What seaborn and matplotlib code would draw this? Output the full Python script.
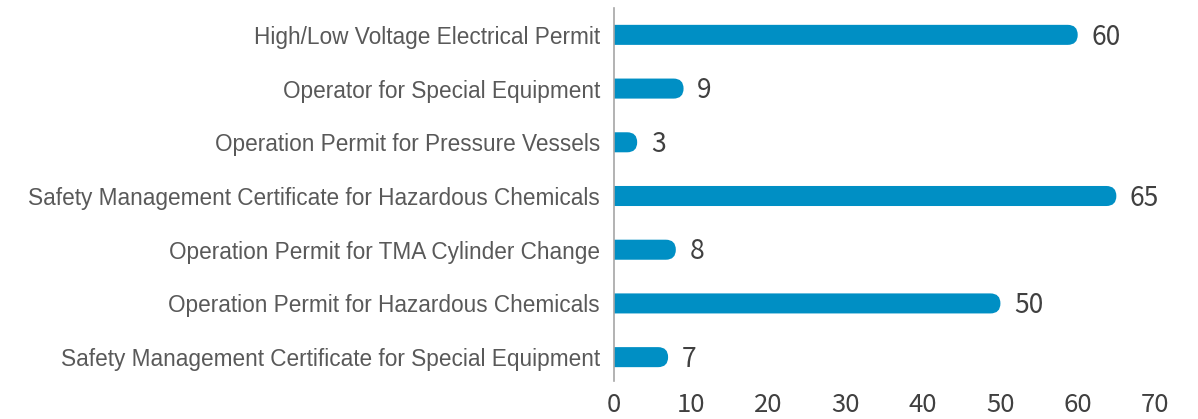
import matplotlib
matplotlib.use("Agg")
import matplotlib.pyplot as plt
from matplotlib.patches import FancyBboxPatch
import seaborn as sns
import pandas as pd

categories = [
    "High/Low Voltage Electrical Permit",
    "Operator for Special Equipment",
    "Operation Permit for Pressure Vessels",
    "Safety Management Certificate for Hazardous Chemicals",
    "Operation Permit for TMA Cylinder Change",
    "Operation Permit for Hazardous Chemicals",
    "Safety Management Certificate for Special Equipment",
]
counts = [60, 9, 3, 65, 8, 50, 7]
x_ticks = [0, 10, 20, 30, 40, 50, 60, 70]

df = pd.DataFrame({"category": categories, "count": counts})

sns.set_theme(style="white")
plt.rcParams["font.family"] = ["Liberation Sans", "DejaVu Sans"]
num_font = ["Noto Sans CJK SC", "DejaVu Sans"]

bar_color = "#008fc4"
W, H = 1198, 419
fig = plt.figure(figsize=(W / 100, H / 100), dpi=100)
ax = fig.add_axes([614 / W, 1 - 384 / H, (1155 - 614) / W, (384 - 8) / H])

bar_h = 0.373
sns.barplot(data=df, x="count", y="category", orient="h", color=bar_color,
            width=bar_h, saturation=1, ax=ax)
ax.set_xlim(0, 70)
ax.set_ylim(len(categories) - 0.5, -0.5)

# swap the plain bars for ones with a rounded right end
ax_w_px = (1155 - 614)
ax_h_px = (384 - 8)
x_per_px = 70 / ax_w_px
y_per_px = len(categories) / ax_h_px
aspect = y_per_px / x_per_px
radius = (bar_h / 2) / aspect
for p in list(ax.patches):
    x0, y0 = p.get_x(), p.get_y()
    w, h = p.get_width(), p.get_height()
    p.remove()
    rb = FancyBboxPatch((x0 - 2 * radius, y0), w + 2 * radius, h,
                        boxstyle=f"round,pad=0,rounding_size={radius}",
                        mutation_aspect=aspect, facecolor=bar_color,
                        edgecolor="none", clip_on=True)
    ax.add_patch(rb)

for i, v in enumerate(counts):
    ax.text(v + 1.75, i - 0.015, str(v), va="center_baseline", ha="left",
            fontsize=19, color="#404040", family=num_font)

ax.set_xticks(x_ticks)
ax.set_xticklabels([str(t) for t in x_ticks], fontsize=18.5, color="#404040",
                   family=num_font)
ax.tick_params(axis="x", length=0, pad=5.5)
ax.tick_params(axis="y", length=0, pad=10, labelsize=16.3, labelcolor="#595959")
ax.set_xlabel("")
ax.set_ylabel("")
for s in ["top", "right", "bottom"]:
    ax.spines[s].set_visible(False)
ax.spines["left"].set_color("#a6a6a6")
ax.spines["left"].set_linewidth(1.2)
ax.spines["left"].set_bounds(-0.5, 6.45)
ax.grid(False)

fig.savefig("out.png", dpi=100)
